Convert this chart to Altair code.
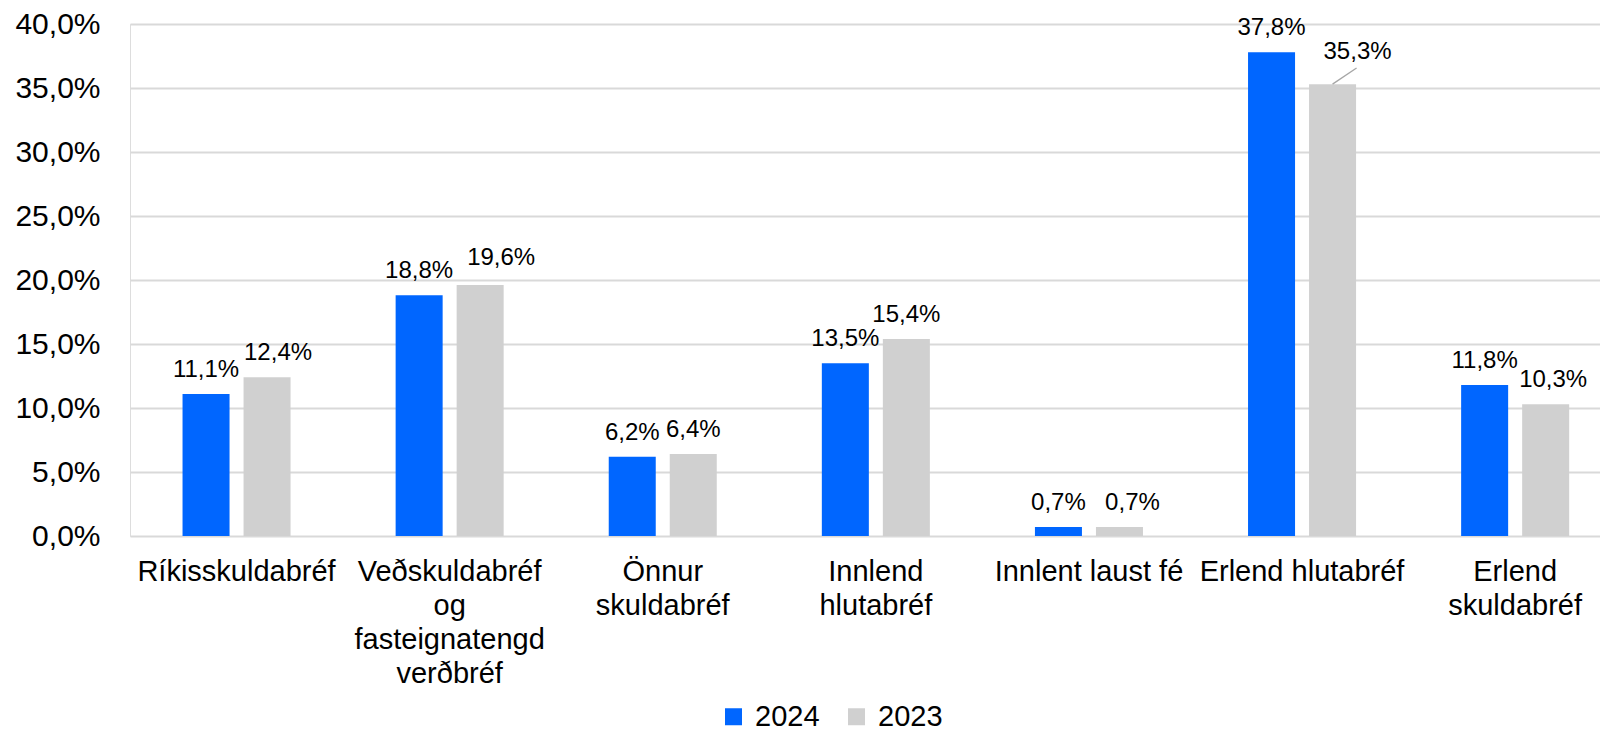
import altair as alt
import pandas as pd

categories = ["Ríkisskuldabréf", "Veðskuldabréf|og|fasteignatengd|verðbréf", "Önnur|skuldabréf",
              "Innlend|hlutabréf", "Innlent laust fé", "Erlend hlutabréf", "Erlend|skuldabréf"]
series = ["2024", "2023"]
values_2024 = [11.1, 18.8, 6.2, 13.5, 0.7, 37.8, 11.8]
values_2023 = [12.4, 19.6, 6.4, 15.4, 0.7, 35.3, 10.3]
y_ticks = [0, 5, 10, 15, 20, 25, 30, 35, 40]

rows = []
for c, a, b in zip(categories, values_2024, values_2023):
    for s, v in (("2024", a), ("2023", b)):
        rows.append({"cat": c, "series": s, "value": v,
                     "label": f"{v:.1f}".replace(".", ",") + "%"})
df = pd.DataFrame(rows)

FONT = "Liberation Sans"
colors = ["#0066FF", "#D0D0D0"]
LABEL_SIZE = 24

x = alt.X("cat:N", sort=categories, title=None,
          scale=alt.Scale(range=[0, 1491.7], paddingInner=0, paddingOuter=0),
          axis=alt.Axis(labelExpr="split(datum.label, '|')", labelAngle=0, labelFontSize=29,
                        labelLineHeight=34, labelPadding=21, ticks=False, domain=False,
                        labelLimit=0, labelColor="#000000", labelFont=FONT, labelBaseline="top"))
xo = alt.XOffset("series:N", sort=series,
                 scale=alt.Scale(paddingInner=0.2295, paddingOuter=0.861))
y = alt.Y("value:Q", title=None,
          scale=alt.Scale(domain=[0, 40], nice=False),
          axis=alt.Axis(values=y_ticks, labelExpr="replace(format(datum.value, '.1f'), '.', ',') + '%'",
                        labelFontSize=30, labelPadding=30, ticks=False, domain=False,
                        gridColor="#D9D9D9", gridWidth=2, labelColor="#000000", labelFont=FONT))

color = alt.Color("series:N", sort=series, title=None,
                  scale=alt.Scale(domain=series, range=colors),
                  legend=alt.Legend(orient="none", direction="horizontal", legendX=589, legendY=678,
                                    symbolType="square", symbolSize=289, symbolStrokeWidth=0,
                                    labelFontSize=29, labelFont=FONT, labelColor="#000000",
                                    labelOffset=7, columnPadding=22, padding=0))

base = alt.Chart(df)
bars = base.mark_bar().encode(x=x, xOffset=xo, y=y, color=color)

# label placement tweaks (layout only), keyed by (category, series): (dx, dy)
label_shifts = {
    ("Ríkisskuldabréf", "2023"): (11, -17),
    ("Veðskuldabréf|og|fasteignatengd|verðbréf", "2023"): (21, -20),
    ("Innlent laust fé", "2023"): (13, -17),
    ("Erlend hlutabréf", "2023"): (25, -25),
    ("Erlend|skuldabréf", "2023"): (7.5, -17),
}

def sel(c, s):
    return f"(datum.cat == '{c}' && datum.series == '{s}')"

excluded = " || ".join(sel(c, s) for (c, s) in label_shifts)
layers = [bars,
          base.transform_filter(f"!({excluded})").mark_text(
              dy=-17, baseline="alphabetic", fontSize=LABEL_SIZE, font=FONT, color="#000000"
          ).encode(x=x, xOffset=xo, y=y, text="label:N")]
for (c, s), (ddx, ddy) in label_shifts.items():
    layers.append(base.transform_filter(sel(c, s)).mark_text(
        dx=ddx, dy=ddy, baseline="alphabetic", fontSize=LABEL_SIZE, font=FONT, color="#000000"
    ).encode(x=x, xOffset=xo, y=y, text="label:N"))

leader = base.transform_filter(sel("Erlend hlutabréf", "2023")).mark_point(
    shape="M0,0L1,-0.67", size=2304, filled=False,
    strokeWidth=1.3, color="#A6A6A6", opacity=1).encode(x=x, xOffset=xo, y=y)
layers.append(leader)

chart = alt.layer(*layers).properties(
    width=1470, height=512,
    autosize=alt.AutoSizeParams(type="none"),
    padding={"left": 122, "top": 16, "right": 0, "bottom": 198},
).configure_view(stroke=None).configure(font=FONT)

chart.save("out.html", embed_options={"renderer": "svg", "actions": False})
